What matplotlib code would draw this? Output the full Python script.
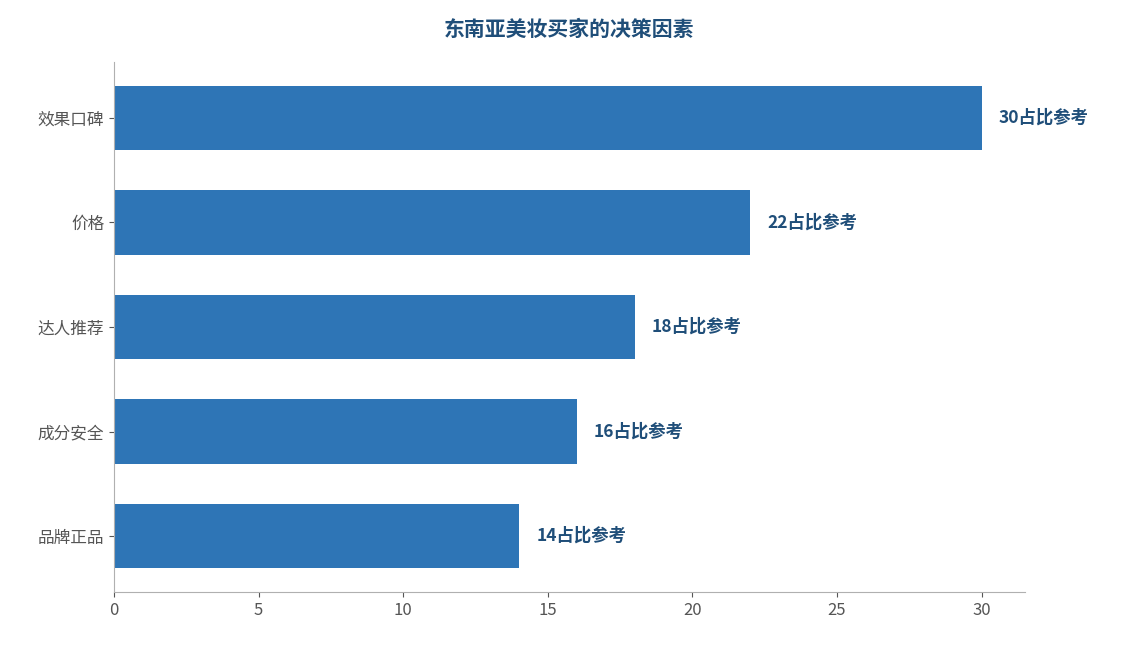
import matplotlib
matplotlib.use("Agg")
import matplotlib.pyplot as plt

plt.rcParams['font.family'] = ['Noto Sans CJK SC', 'DejaVu Sans']

categories = ["品牌正品", "成分安全", "达人推荐", "价格", "效果口碑"]
values = [14, 16, 18, 22, 30]
label_suffix = "占比参考"

fig = plt.figure(figsize=(11.24, 6.45), dpi=100)
ax = fig.add_axes([114 / 1124, 53 / 645, 911 / 1124, 530 / 645])

ax.barh(categories, values, height=0.62, color="#2e75b6")
for i, v in enumerate(values):
    ax.text(v + 0.6, i, f"{v}{label_suffix}", va="center", ha="left",
            fontsize=12.5, fontweight="bold", color="#1f4e79")

ax.set_xlim(0, 31.5)
ax.set_ylim(-0.535, 4.535)
ax.set_xticks([0, 5, 10, 15, 20, 25, 30])
ax.tick_params(axis="both", colors="#555555", labelsize=12)
for s in ["top", "right"]:
    ax.spines[s].set_visible(False)
for s in ["left", "bottom"]:
    ax.spines[s].set_color("#b0b0b0")

fig.text(569 / 1124, 1 - 29 / 645, "东南亚美妆买家的决策因素", ha="center", va="center",
         fontsize=15, fontweight="bold", color="#1f4e79")

fig.savefig("out.png", dpi=100)
